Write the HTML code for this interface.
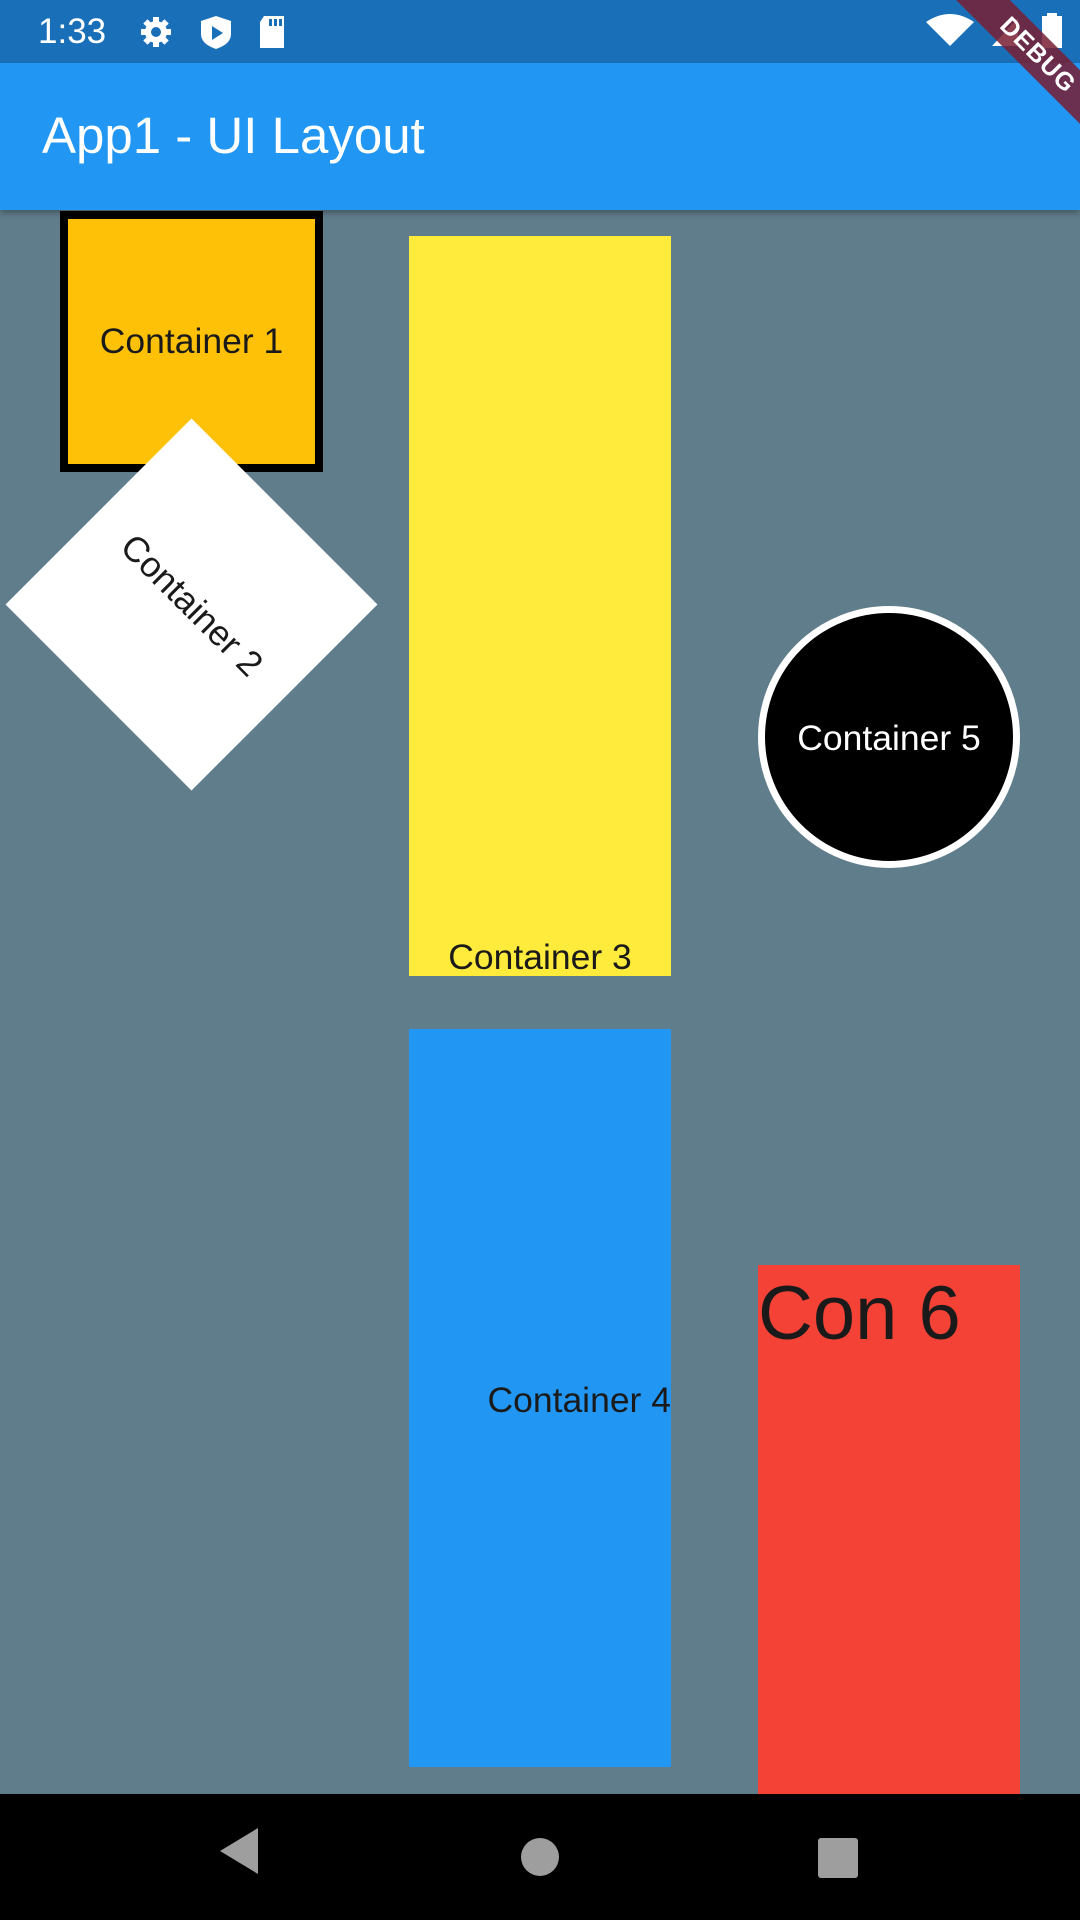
<!DOCTYPE html>
<html><head><meta charset="utf-8"><style>
*{margin:0;padding:0;box-sizing:border-box}
body{width:1080px;height:1920px;overflow:hidden;background:#607D8B;position:relative;font-family:"Liberation Sans",sans-serif}
.a{position:absolute}
.t{font-size:35.5px;color:#1a1a1a;white-space:nowrap}
</style></head><body>
<div class="a" style="left:0;top:0;width:1080px;height:63px;background:#1A70B8"></div>
<div class="a" style="left:38px;top:12px;color:#fff;font-size:35px">1:33</div>
<svg class="a" style="left:138px;top:14px" width="160" height="36" viewBox="0 0 160 36">
<circle cx="18" cy="18" r="11" fill="#fff"/><circle cx="18" cy="18" r="5" fill="#1A70B8"/>
<g fill="#fff"><rect x="15" y="3" width="6" height="30"/><rect x="3" y="15" width="30" height="6"/><rect x="15" y="3" width="6" height="30" transform="rotate(45 18 18)"/><rect x="15" y="3" width="6" height="30" transform="rotate(-45 18 18)"/></g>
<circle cx="18" cy="18" r="5" fill="#1A70B8"/>
<path d="M78 2 L93 7 L93 20 Q93 30 78 35 Q63 30 63 20 L63 7 Z" fill="#fff"/><path d="M74 12 L85 19 L74 26 Z" fill="#1A70B8"/>
<path d="M126 2 L146 2 L146 34 L122 34 L122 8 Z" fill="#fff"/><rect x="131" y="5" width="3" height="7" fill="#1A70B8"/><rect x="136" y="5" width="3" height="7" fill="#1A70B8"/><rect x="141" y="5" width="3" height="7" fill="#1A70B8"/>
</svg>
<svg class="a" style="left:920px;top:12px" width="160" height="40" viewBox="0 0 160 40">
<path d="M6 10 Q30 -6 54 10 L30 34 Z" fill="#fff"/>
<path d="M72 34 L98 34 L98 6 Z" fill="#fff"/>
<rect x="122" y="4" width="20" height="32" fill="#fff"/><rect x="127" y="1" width="10" height="4" fill="#fff"/>
</svg>
<div class="a" style="left:0;top:63px;width:1080px;height:147px;background:#2196F3;box-shadow:0 3px 6px rgba(0,0,0,0.3)"></div>
<div class="a" style="left:42px;top:106px;color:#fff;font-size:51px">App1 - UI Layout</div>
<div class="a" style="left:928px;top:36px;width:220px;height:38px;background:rgba(120,30,50,0.85);transform:rotate(45deg);transform-origin:center;color:#fff;font-weight:bold;font-size:25px;text-align:center;line-height:38px;letter-spacing:1px">DEBUG</div>

<div class="a" style="left:60px;top:211px;width:263px;height:261px;background:#FFC107;border:8px solid #000"></div>
<div class="a t" style="left:60px;top:321px;width:263px;text-align:center">Container 1</div>
<div class="a" style="left:60px;top:473px;width:263px;height:263px;background:#fff;transform:rotate(45deg)"></div>
<div class="a t" style="left:60px;top:585px;width:263px;text-align:center;transform:rotate(45deg)">Container 2</div>
<div class="a" style="left:409px;top:236px;width:262px;height:740px;background:#FFEB3B"></div>
<div class="a t" style="left:409px;top:937px;width:262px;text-align:center">Container 3</div>
<div class="a" style="left:758px;top:606px;width:262px;height:262px;border-radius:50%;background:#000;border:7px solid #fff"></div>
<div class="a t" style="left:758px;top:718px;width:262px;text-align:center;color:#fff">Container 5</div>
<div class="a" style="left:409px;top:1029px;width:262px;height:738px;background:#2196F3"></div>
<div class="a t" style="left:400px;top:1380px;width:271px;text-align:right">Container 4</div>
<div class="a" style="left:758px;top:1265px;width:262px;height:530px;background:#F44336"></div>
<div class="a" style="left:758px;top:1270px;font-size:76px;color:#1a1a1a;white-space:nowrap">Con 6</div>

<div class="a" style="left:0;top:1794px;width:1080px;height:126px;background:#000"></div>
<svg class="a" style="left:0;top:1794px" width="1080" height="126">
<path d="M258 34 L258 80 L220 57 Z" fill="#9e9e9e"/>
<circle cx="540" cy="63" r="19" fill="#9e9e9e"/>
<rect x="818" y="44" width="40" height="40" rx="3" fill="#9e9e9e"/>
</svg>
</body></html>
